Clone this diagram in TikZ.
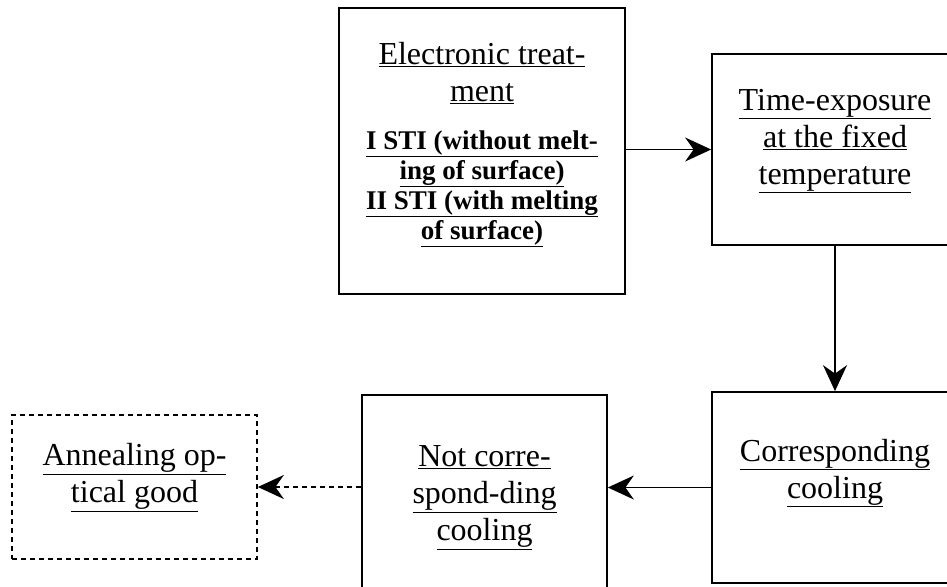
\documentclass[tikz,border=0pt]{standalone}
\usepackage{fontspec}
\setmainfont{Liberation Serif}
\usetikzlibrary{arrows.meta,positioning}

\begin{document}
\begin{tikzpicture}[x=1pt, y=-1pt, >={Stealth[length=26pt,width=24pt]}, line width=1.7pt,
  stage/.style={draw, rectangle, align=center, inner sep=0pt, font=\fontsize{32}{37}\selectfont}]
\useasboundingbox (0,0) rectangle (947,586);
% process boxes
\node[stage, minimum width=286pt, minimum height=286pt] (treat) at (482,151) {\underline{Electronic treat-}\\\underline{ment}\\[11pt]{\fontsize{27}{30}\selectfont\bfseries\raisebox{0pt}[\height][\dimexpr\depth+12pt]{\begin{tabular}[t]{@{}c@{}}\underline{I STI (without melt-}\\\underline{ing of surface)}\\\underline{II STI (with melting}\\\underline{of surface)}\end{tabular}}}};
\node[stage, minimum width=246pt, minimum height=191pt, text depth=26pt] (expo) at (835,149.5) {\underline{Time-exposure}\\\underline{at the fixed}\\\underline{temperature}};
\node[stage, minimum width=246pt, minimum height=191pt, text depth=38pt] (corr) at (835,487.5) {\underline{Corresponding}\\\underline{cooling}};
\node[stage, minimum width=245pt, minimum height=205pt] (notcorr) at (484.5,497.5) {\underline{Not corre-}\\\underline{spond-ding}\\\underline{cooling}};
\node[stage, dash pattern=on 5pt off 4pt, minimum width=245pt, minimum height=144pt, text depth=28pt] (anneal) at (134.5,487) {\underline{Annealing op-}\\\underline{tical good}};
% flow
\draw[->] (treat.east |- expo.west) -- (expo.west);
\draw[->] (expo.south) -- (corr.north);
\draw[->] (corr.west) -- (corr.west -| notcorr.east);
\draw[->, dash pattern=on 5pt off 4pt] (anneal.east -| notcorr.west) -- (anneal.east);
\end{tikzpicture}
\end{document}
